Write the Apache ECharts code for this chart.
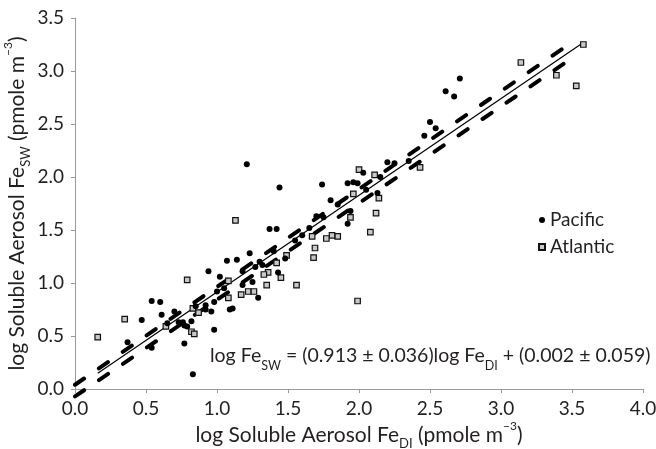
<!DOCTYPE html>
<html>
<head>
<meta charset="utf-8">
<script src="https://cdn.jsdelivr.net/npm/echarts@6/dist/echarts.min.js"></script>
<style>
html,body{margin:0;padding:0;background:#fff;}
#chart{width:656px;height:449px;}
</style>
</head>
<body>
<div id="chart"></div>
<script>
// ---- data ----
const xTickLabels = ['0.0','0.5','1.0','1.5','2.0','2.5','3.0','3.5','4.0'];
const yTickLabels = ['0.0','0.5','1.0','1.5','2.0','2.5','3.0','3.5'];

const pacificX = [2.71,2.61,2.67,2.50,2.54,2.46,2.20,2.25,1.74,1.92,1.96,1.99,2.03,1.80,1.85,2.13,1.94,1.92,1.70,1.21,
                  1.44,1.37,1.42,1.23,1.32,1.43,1.48,1.25,1.07,1.14,1.18,1.18,1.29,1.09,1.11,1.02,0.94,0.54,0.60,0.47,
                  0.61,0.82,0.77,0.98,0.77,0.83,0.54,0.92,0.96,0.98,0.37,0.70,0.73,0.76,0.79,0.92,
                  1.60,1.55,1.30,2.05,2.35,0.65,1.05,1.75,1.40,2.15,0.85,1.27,1.65,1.00];
const pacificY = [2.93,2.81,2.76,2.52,2.46,2.39,2.14,2.13,1.93,1.94,1.95,1.94,2.04,1.78,1.74,1.85,1.68,1.56,1.63,2.12,
                  1.90,1.51,1.51,1.28,1.17,1.10,1.23,1.01,1.21,1.22,1.11,0.98,0.86,0.75,0.76,1.06,1.11,0.83,0.82,0.65,
                  0.70,0.64,0.60,0.56,0.43,0.14,0.39,0.75,0.73,0.82,0.44,0.73,0.63,0.63,0.59,0.79,
                  1.45,1.40,1.20,1.88,2.15,0.62,0.95,1.62,1.30,2.00,0.78,1.15,1.52,0.92];

const atlanticX = [3.58,3.14,3.39,3.53,2.43,2.14,2.00,2.11,1.96,2.12,1.94,2.08,1.85,1.81,1.77,1.67,1.69,1.68,1.49,1.42,
                   1.36,1.33,1.45,1.35,1.56,1.13,1.08,1.08,1.17,1.22,1.26,0.79,0.87,0.83,0.64,0.82,0.84,0.16,0.35,1.99];
const atlanticY = [3.25,3.08,2.96,2.86,2.09,1.80,2.07,2.02,1.84,1.66,1.62,1.48,1.44,1.45,1.42,1.44,1.33,1.24,1.26,1.19,
                   1.10,1.08,1.05,0.98,0.98,1.59,1.02,0.86,0.89,0.92,0.92,1.03,0.72,0.76,0.59,0.54,0.52,0.49,0.66,0.83];

// regression line and dashed bounds (end points)
const fitLineX = [0.16, 3.58];
const fitLineY = [0.148, 3.27];
const upperX = [0, 3.52];
const upperY = [0.04, 3.29];
const lowerX = [0, 3.52];
const lowerY = [-0.07, 3.14];

const seriesNames = ['Pacific', 'Atlantic'];
const equationText = 'log Fe{sub|SW} = (0.913 ± 0.036)log Fe{sub|DI} + (0.002 ± 0.059)';

// ---- chart ----
const zip = (a, b) => a.map((v, i) => [v, b[i]]);
const FONT = 'Lato';
const TXT = '#231f20';

const chart = echarts.init(document.getElementById('chart'), null, {renderer: 'canvas'});
const subStyle = {fontSize: 13, fontFamily: FONT, color: TXT, verticalAlign: 'bottom', lineHeight: 15, padding: [0,0,-3,0]};
const supStyle = {fontSize: 12, fontFamily: FONT, color: TXT, verticalAlign: 'top', lineHeight: 15, padding: [-3,0,0,0]};

chart.setOption({
  animation: false,
  backgroundColor: '#ffffff',
  grid: {left: 75, right: 13, top: 18, bottom: 60, containLabel: false, outerBoundsMode: 'none'},
  xAxis: {
    type: 'value', min: 0, max: 4, interval: 0.5,
    name: 'log Soluble Aerosol Fe{sub|DI} (pmole m{sup|−3})',
    nameLocation: 'middle', nameGap: 34, nameMoveOverlap: false,
    nameTextStyle: {fontSize: 21, fontFamily: FONT, color: TXT, lineHeight: 24,
      rich: {sub: subStyle, sup: supStyle}},
    axisLine: {show: true, onZero: false, lineStyle: {color: '#9a9a9a', width: 1}},
    axisTick: {show: true, inside: false, length: 4, lineStyle: {color: '#9a9a9a'}},
    axisLabel: {fontSize: 19, fontFamily: FONT, color: TXT, margin: 10,
      formatter: (v, i) => xTickLabels[i]},
    splitLine: {show: false}
  },
  yAxis: {
    type: 'value', min: 0, max: 3.5, interval: 0.5,
    name: 'log Soluble Aerosol Fe{sub|SW} (pmole m{sup|−3})',
    nameLocation: 'middle', nameGap: 46, nameMoveOverlap: false,
    nameTextStyle: {fontSize: 21, fontFamily: FONT, color: TXT, lineHeight: 24,
      rich: {sub: subStyle, sup: supStyle}},
    axisLine: {show: true, onZero: false, lineStyle: {color: '#9a9a9a', width: 1}},
    axisTick: {show: true, inside: false, length: 4, lineStyle: {color: '#9a9a9a'}},
    axisLabel: {fontSize: 19, fontFamily: FONT, color: TXT, margin: 11,
      formatter: (v, i) => yTickLabels[i]},
    splitLine: {show: false}
  },
  legend: {
    data: seriesNames,
    orient: 'vertical',
    left: 533, top: 205,
    itemWidth: 6, itemHeight: 6, itemGap: 7,
    textStyle: {fontSize: 19, fontFamily: FONT, color: TXT, lineHeight: 20, padding: [0,0,0,0]}
  },
  graphic: [{
    type: 'text', left: 210, top: 344, silent: true,
    style: {
      text: equationText,
      font: '19.5px ' + FONT, fill: TXT, lineHeight: 24,
      rich: {sub: {fontSize: 12.5, fontFamily: FONT, fill: TXT, verticalAlign: 'bottom', lineHeight: 16, padding: [0,0,-4,0]}}
    }
  }],
  series: [
    {
      name: 'fit', type: 'line', data: zip(fitLineX, fitLineY), symbol: 'none', silent: true, z: 1,
      lineStyle: {color: '#000', width: 1.2}
    },
    {
      name: 'upper', type: 'line', data: zip(upperX, upperY), symbol: 'none', silent: true, clip: false, z: 1,
      lineStyle: {color: '#000', width: 4, type: [11, 18], cap: 'round'}
    },
    {
      name: 'lower', type: 'line', data: zip(lowerX, lowerY), symbol: 'none', silent: true, clip: false, z: 1,
      lineStyle: {color: '#000', width: 4, type: [11, 18], cap: 'round'}
    },
    {
      name: seriesNames[1], type: 'scatter', data: zip(atlanticX, atlanticY),
      symbol: 'rect', symbolSize: 5.5, z: 3,
      itemStyle: {color: '#c8c8c8', borderColor: '#111', borderWidth: 1.2, opacity: 1}
    },
    {
      name: seriesNames[0], type: 'scatter', data: zip(pacificX, pacificY),
      symbol: 'circle', symbolSize: 6, z: 4,
      itemStyle: {color: '#000', opacity: 1}
    }
  ]
});
</script>
</body>
</html>
